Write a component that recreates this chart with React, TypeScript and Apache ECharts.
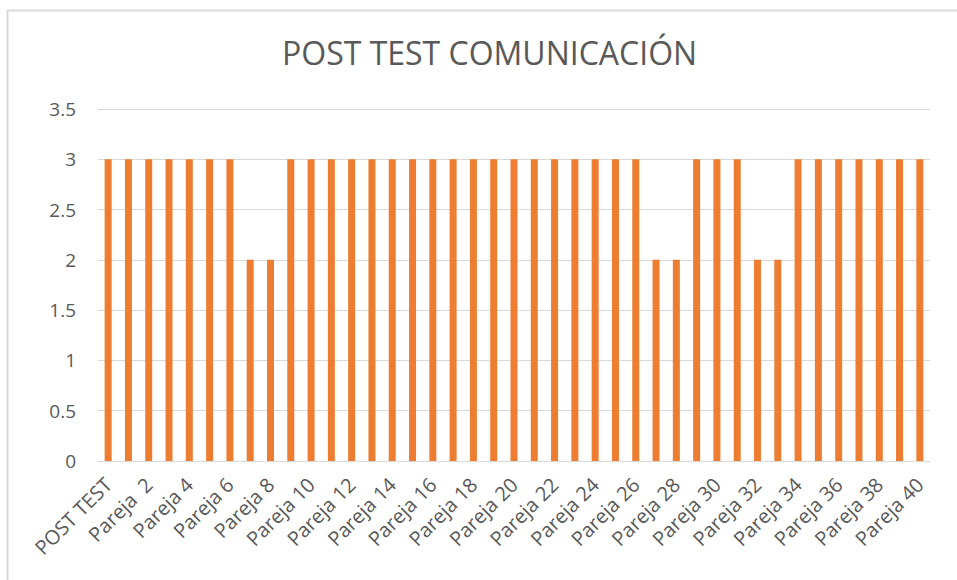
import React, { useEffect, useRef } from "react";
import * as echarts from "echarts";

const categories: string[] = ["POST TEST"];
for (let i = 1; i <= 40; i++) categories.push(i === 2 ? "Pareja  2" : "Pareja " + i);

const values: number[] = [
  3, 3, 3, 3, 3, 3, 3, 2, 2, 3,
  3, 3, 3, 3, 3, 3, 3, 3, 3, 3,
  3, 3, 3, 3, 3, 3, 3, 2, 2, 3,
  3, 3, 2, 2, 3, 3, 3, 3, 3, 3,
  3,
];

const yTicks = { min: 0, max: 3.5, interval: 0.5 };

export default function App() {
  const ref = useRef<HTMLDivElement>(null);
  useEffect(() => {
    if (!ref.current) return;
    const chart = echarts.init(ref.current, null, { renderer: "svg" });
    const font = "'Open Sans', 'Liberation Sans', sans-serif";
    chart.setOption({
      animation: false,
      backgroundColor: "#ffffff",
      title: {
        text: "POST TEST COMUNICACIÓN",
        left: 277,
        top: 31,
        textStyle: { fontFamily: font, fontSize: 32, fontWeight: "normal", color: "#595959" },
      },
      graphic: [
        { type: "line", shape: { x1: 7, y1: 10.5, x2: 957, y2: 10.5 }, style: { stroke: "#d9d9d9", lineWidth: 2 } },
        { type: "line", shape: { x1: 7.5, y1: 10, x2: 7.5, y2: 580 }, style: { stroke: "#d9d9d9", lineWidth: 2 } },
      ],
      grid: { left: 98, right: 27, top: 109, bottom: 119, containLabel: false },
      xAxis: {
        type: "category",
        data: categories,
        axisLine: { show: true, lineStyle: { color: "#d9d9d9", width: 1 } },
        axisTick: { show: false },
        axisLabel: {
          interval: 1,
          rotate: 45,
          margin: 20,
          fontFamily: font,
          fontSize: 20,
          color: "#595959",
        },
      },
      yAxis: {
        type: "value",
        min: yTicks.min,
        max: yTicks.max,
        interval: yTicks.interval,
        axisLine: { show: false },
        axisTick: { show: false },
        splitLine: { lineStyle: { color: "#d9d9d9", width: 1 } },
        axisLabel: {
          margin: 22,
          fontFamily: font,
          fontSize: 19,
          color: "#595959",
        },
      },
      series: [
        {
          type: "bar",
          data: values,
          barWidth: 7,
          itemStyle: { color: "#ED7D31" },
        },
      ],
    });
    return () => chart.dispose();
  }, []);
  return <div ref={ref} style={{ position: "fixed", left: 0, top: 0, width: 957, height: 580 }} />;
}
